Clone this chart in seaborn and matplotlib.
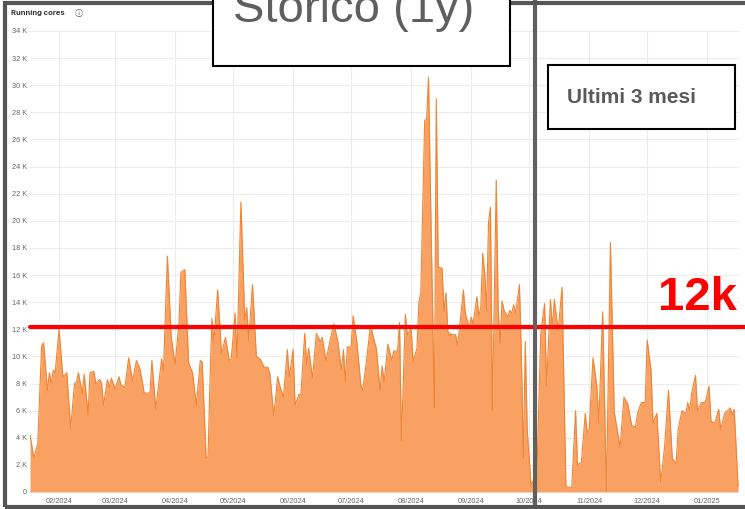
import numpy as np
import pandas as pd
import matplotlib.pyplot as plt
import matplotlib.dates as mdates
from matplotlib.patches import Rectangle
from matplotlib.ticker import FuncFormatter, MultipleLocator
import seaborn as sns

# day offsets from 2024-01-01 and running cores (thousands)
days = [16, 18, 20, 22, 23, 25, 26, 27, 28, 29, 31, 33, 35, 37, 39, 40, 41, 43, 44, 46,
        47, 49, 50, 52, 53, 54, 56, 57, 58, 60, 62, 63, 65, 67, 69, 71, 73, 75, 78, 79,
        81, 84, 85, 87, 89, 91, 93, 94, 96, 98, 100, 102, 104, 105, 107, 108, 109, 110, 111, 113,
        115, 117, 119, 120, 122, 123, 125, 127, 128, 129, 131, 133, 135, 137, 139, 140, 142, 144, 145, 147,
        149, 150, 152, 153, 155, 156, 158, 159, 160, 162, 164, 166, 167, 169, 171, 173, 175, 177, 178, 179,
        180, 182, 183, 185, 187, 188, 190, 192, 194, 195, 197, 198, 199, 201, 203, 204, 206, 207, 208, 210,
        211, 213, 214, 216, 217, 218, 220, 221, 222, 223, 225, 226, 227, 229, 230, 231, 232, 234, 236, 237,
        238, 240, 241, 243, 244, 245, 247, 248, 249, 250, 251, 252, 253, 254, 255, 257, 258, 259, 260, 261,
        263, 264, 265, 266, 267, 269, 270, 271, 272, 273, 275, 278, 280, 282, 283, 285, 286, 287, 289, 291,
        293, 296, 298, 299, 301, 303, 304, 305, 307, 309, 310, 312, 314, 316, 318, 321, 323, 325, 327, 329,
        330, 332, 334, 335, 337, 338, 340, 342, 344, 346, 348, 350, 351, 353, 355, 356, 357, 358, 360, 361,
        363, 365, 367, 368, 370, 372, 373, 375, 378, 379, 380, 382]
cores_k = [4.2, 2.5, 3.6, 10.8, 11.0, 7.5, 8.8, 8.0, 9.0, 8.8, 12.0, 8.5, 8.8, 4.7, 8.0, 8.1, 8.8, 7.3, 8.7, 5.7,
           8.8, 8.9, 8.0, 8.3, 8.0, 6.4, 8.3, 7.7, 8.4, 7.6, 8.5, 7.9, 7.7, 9.9, 8.2, 9.7, 9.0, 7.3, 7.3, 9.7,
           6.1, 9.8, 9.0, 17.4, 11.4, 9.4, 12.5, 16.2, 16.4, 9.5, 8.8, 6.4, 9.7, 9.6, 2.5, 2.6, 8.0, 12.8, 11.0, 14.9,
           10.2, 11.4, 9.7, 9.8, 13.2, 9.9, 21.4, 12.7, 13.6, 11.2, 15.3, 10.0, 9.8, 9.2, 9.2, 8.7, 5.6, 8.5, 7.9, 7.0,
           10.5, 8.5, 10.5, 6.4, 7.2, 7.2, 11.7, 9.4, 10.6, 8.4, 11.7, 11.1, 11.4, 9.7, 11.1, 12.4, 11.2, 9.0, 10.5, 8.2,
           10.7, 10.7, 13.0, 11.0, 7.9, 7.5, 9.8, 12.3, 11.1, 10.6, 7.5, 9.3, 8.1, 10.9, 9.7, 10.4, 10.4, 12.5, 3.8, 13.1,
           11.6, 12.1, 9.6, 10.6, 14.0, 14.7, 27.4, 27.5, 30.6, 22.0, 6.2, 29.0, 16.6, 16.5, 13.3, 14.7, 11.8, 11.6, 11.6, 10.8,
           12.1, 14.9, 13.2, 12.1, 12.9, 12.4, 14.4, 13.0, 13.6, 17.6, 16.2, 13.4, 19.9, 21.0, 6.0, 23.0, 13.5, 11.0, 14.1, 13.4,
           12.9, 13.4, 13.2, 13.8, 13.2, 15.3, 10.0, 2.5, 11.1, 4.6, 0.5, 1.4, 11.7, 13.9, 7.8, 14.2, 12.1, 14.2, 11.9, 15.1,
           0.4, 0.3, 6.0, 2.0, 2.2, 5.8, 4.4, 4.6, 9.9, 7.8, 5.1, 13.3, 0.0, 18.4, 5.9, 3.3, 7.0, 6.5, 4.9, 4.8,
           5.8, 6.6, 6.6, 11.2, 9.0, 5.1, 5.8, 0.7, 3.3, 7.5, 2.5, 2.1, 4.6, 6.0, 5.8, 6.6, 6.0, 7.3, 8.6, 6.0,
           6.6, 6.6, 7.8, 5.2, 5.1, 6.1, 4.6, 5.8, 6.2, 5.7, 6.1, 0.4]
threshold = 12200
split_day = 277  # start of "Ultimi 3 mesi"

start = pd.Timestamp('2024-01-01')
df = pd.DataFrame({'date': start + pd.to_timedelta(days, unit='D'),
                   'cores': np.array(cores_k) * 1000})

sns.set_style('whitegrid', {'grid.color': '#ececec', 'axes.edgecolor': 'white'})
plt.rcParams['font.family'] = ['Liberation Sans', 'DejaVu Sans']

fig = plt.figure(figsize=(7.45, 5.09), dpi=100)
ax = fig.add_axes([0.0403, 0.0334, 0.953, 0.9057])

ax.fill_between(df['date'], df['cores'], color='#f9a063', lw=0, zorder=2)
sns.lineplot(data=df, x='date', y='cores', ax=ax, color='#ef8535', lw=0.8, zorder=3)

ax.set_xlim(start + pd.Timedelta(days=16), start + pd.Timedelta(days=383))
ax.set_ylim(0, 34000)
ax.yaxis.set_major_locator(MultipleLocator(2000))
ax.yaxis.set_major_formatter(FuncFormatter(lambda v, p: '0' if v == 0 else f'{v/1000:.0f} K'))
ax.xaxis.set_major_locator(mdates.MonthLocator())
ax.xaxis.set_major_formatter(mdates.DateFormatter('%m/%Y'))
ax.tick_params(axis='both', length=0, labelsize=5.3, labelcolor='#666666')
ax.tick_params(axis='y', pad=2)
ax.tick_params(axis='x', pad=4)
ax.set_xlabel('')
ax.set_ylabel('')
for s in ax.spines.values():
    s.set_visible(False)
ax.grid(True, color='#ececec', lw=0.8)

# threshold line and label
ax.axhline(threshold, xmin=0, xmax=1.01, color='#ff0000', lw=3, clip_on=False, zorder=5)
fig.text(0.989, 0.391, '12k', color='#ff0000', fontsize=34, fontweight='bold',
         ha='right', va='baseline')

# split between history and last 3 months
ax.axvline(start + pd.Timedelta(days=split_day), ymin=-0.05, ymax=1.1, color='#606060',
           lw=3, clip_on=False, zorder=6)

# screenshot frame
fig.patches.append(Rectangle((0.0067, 0.004), 1.1, 0.99, transform=fig.transFigure,
                             fill=False, edgecolor='#555555', lw=3, zorder=7))

fig.text(0.0148, 0.974, 'Running cores', fontsize=5.5, color='#333333', fontweight='bold',
         va='center', family=['Inter', 'DejaVu Sans'])
fig.text(0.101, 0.974, 'ⓘ', fontsize=6, color='#555555', va='center',
         family=['Noto Sans CJK JP', 'DejaVu Sans'])

# annotation boxes
fig.patches.append(Rectangle((0.2859, 0.8703), 0.3987, 0.2, transform=fig.transFigure,
                             facecolor='white', edgecolor='black', lw=1.5, zorder=8))
fig.text(0.4752, 0.9568, 'Storico (1y)', fontsize=34, color='#5f5f5f', ha='center',
         va='baseline', zorder=9)
fig.patches.append(Rectangle((0.7356, 0.7466), 0.251, 0.1257, transform=fig.transFigure,
                             facecolor='white', edgecolor='black', lw=1.5, zorder=8))
fig.text(0.848, 0.8094, 'Ultimi 3 mesi', fontsize=15, color='#5a5a5a', fontweight='bold',
         ha='center', va='center', zorder=9)

fig.savefig('out.png', dpi=100)
